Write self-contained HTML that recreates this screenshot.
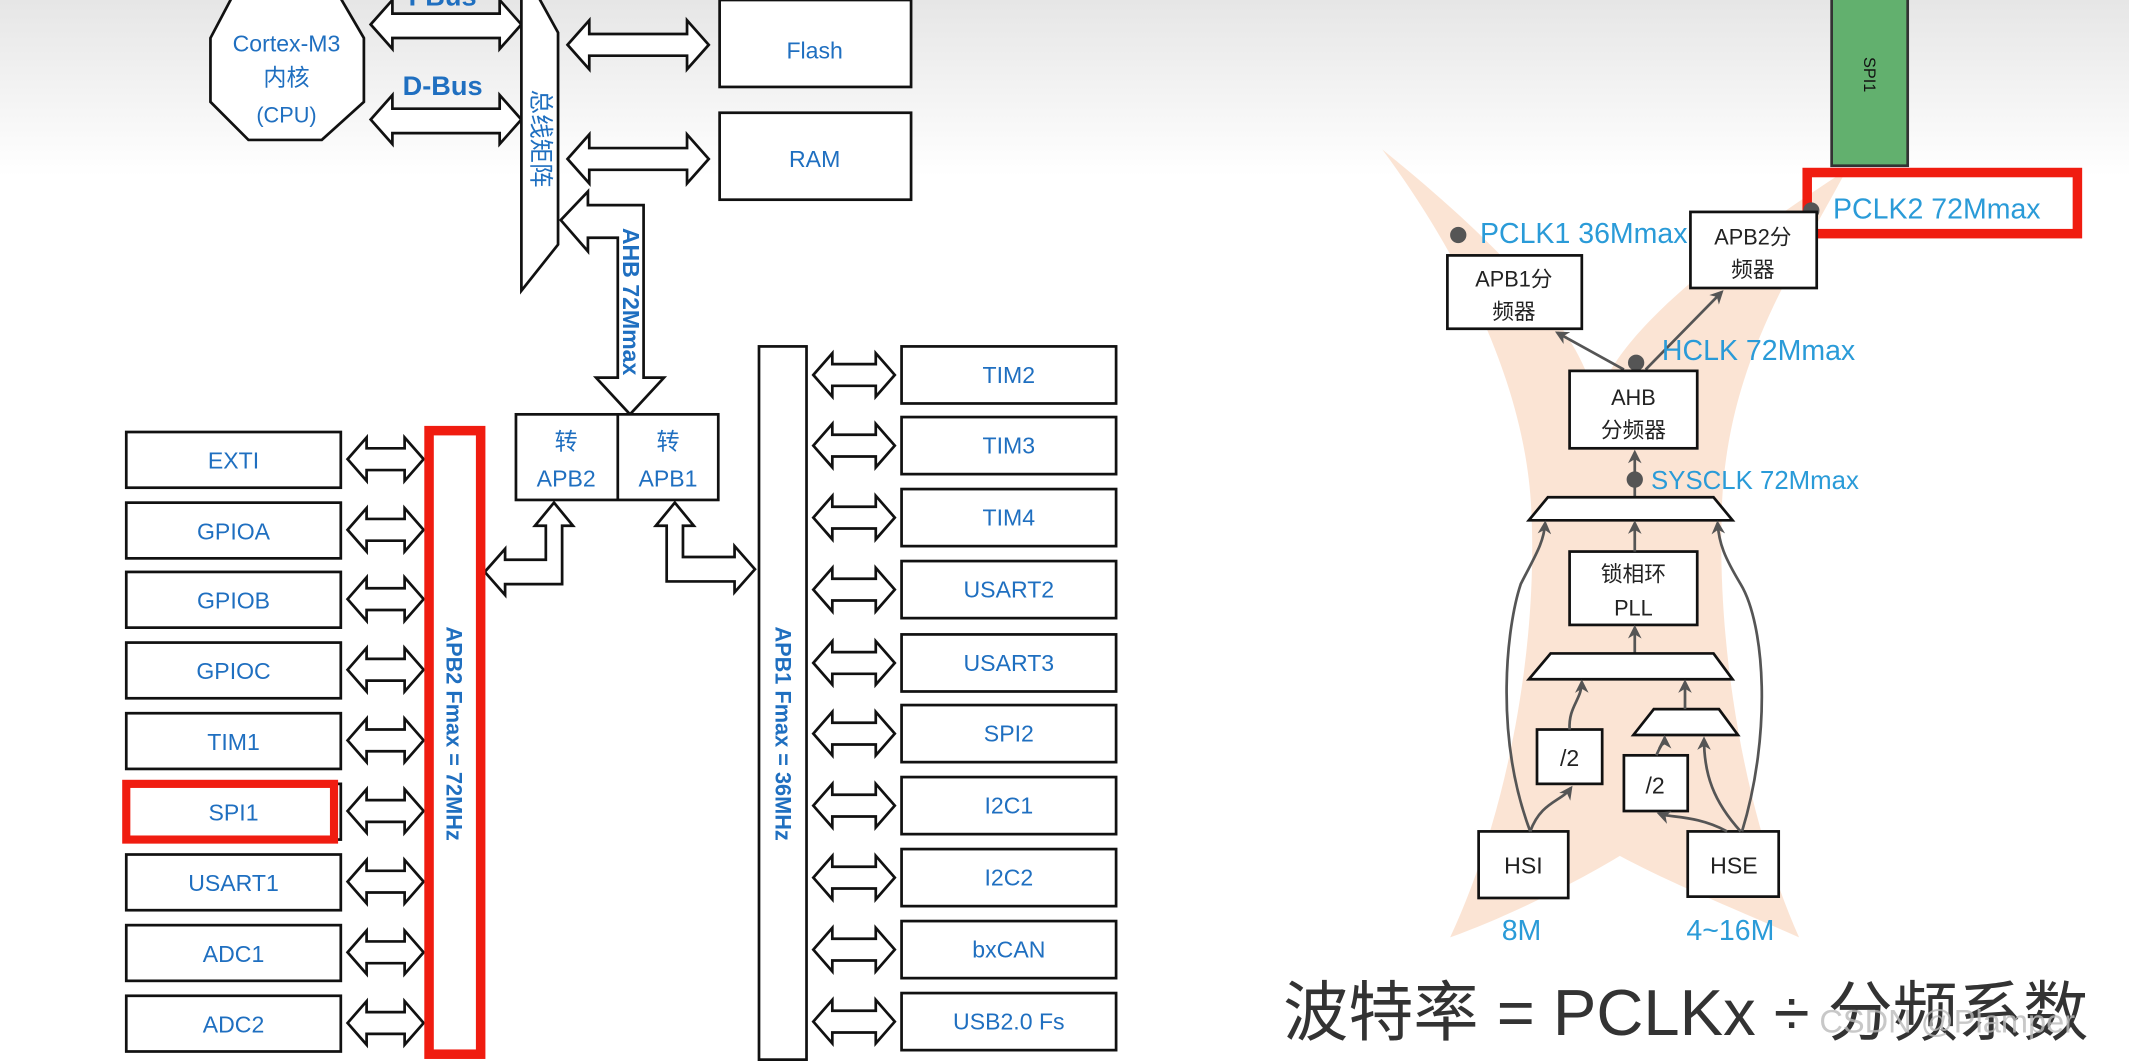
<!DOCTYPE html>
<html><head><meta charset="utf-8"><style>
html,body{margin:0;padding:0;background:#fff;overflow:hidden}
svg{display:block}
.t{font-family:"Liberation Sans","Noto Sans CJK SC",sans-serif;fill:#1f6fc0;text-anchor:middle}
.k{font-family:"Liberation Sans","Noto Sans CJK SC",sans-serif;fill:#222;text-anchor:middle}
.c{font-family:"Liberation Sans","Noto Sans CJK SC",sans-serif;fill:#2a9bd8}
.b{fill:#fff;stroke:#111;stroke-width:2}
.ln{fill:none;stroke:#555;stroke-width:2}
</style></head><body>
<svg width="2129" height="1061" viewBox="0 0 1568 781" preserveAspectRatio="none" xmlns="http://www.w3.org/2000/svg">
<defs>
<linearGradient id="g" x1="0" y1="0" x2="0" y2="1"><stop offset="0" stop-color="#e6e6e6"/><stop offset="1" stop-color="#fff"/></linearGradient>
<marker id="ah" markerWidth="10" markerHeight="10" refX="8" refY="5" orient="auto" markerUnits="userSpaceOnUse"><path d="M0,0 L10,5 L0,10 L3,5 z" fill="#555"/></marker>
</defs>
<rect width="1568" height="781" fill="#fff"/>
<rect width="1568" height="130" fill="url(#g)"/>

<polygon points="183,-25 237,-25 268,28 268,75 237,103 183,103 155,75 155,28" class="b"/>
<text class="t" x="211" y="38" font-size="17">Cortex-M3</text>
<text class="t" x="211" y="63" font-size="17">内核</text>
<text class="t" x="211" y="90" font-size="16">(CPU)</text>

<g fill="#fff" stroke="#111" stroke-width="2">
<polygon points="273,18 289,0 289,10 368,10 368,0 384,18 368,36 368,28 289,28 289,36"/>
<polygon points="273,88 289,70 289,80 368,80 368,70 384,88 368,106 368,98 289,98 289,106"/>
<polygon points="418,33 434,15 434,25 506,25 506,15 522,33 506,51 506,41 434,41 434,51"/>
<polygon points="418,117 434,99 434,109 506,109 506,99 522,117 506,135 506,125 434,125 434,135"/>
<polygon points="384,-5 395,-5 411,24 411,180 384,214"/>
<polygon points="413,162 433,141 433,151 474,151 474,278 489,278 464,305 439,278 455,278 455,175 433,175 433,185"/>
<polygon points="408,370 422,387 414,387 414,430 372,430 372,438 357,421 372,404 372,412 402,412 402,387 394,387"/>
<polygon points="497,370 511,387 503,387 503,410 541,410 541,402 556,419 541,436 541,428 491,428 491,387 483,387"/>
</g>
<text class="t" x="326" y="70" font-size="20" font-weight="bold">D-Bus</text>
<text class="t" x="326" y="4" font-size="20" font-weight="bold">I-Bus</text>
<text class="t" font-size="18" transform="translate(392,102) rotate(90)">总线矩阵</text>
<text class="t" font-size="17" font-weight="bold" transform="translate(459,222) rotate(90)">AHB 72Mmax</text>

<rect x="530" y="0" width="141" height="64" class="b"/>
<text class="t" x="600" y="43" font-size="17">Flash</text>
<rect x="530" y="83" width="141" height="64" class="b"/>
<text class="t" x="600" y="123" font-size="17">RAM</text>

<rect x="380" y="305" width="149" height="63" class="b"/>
<line x1="455" y1="305" x2="455" y2="368" stroke="#111" stroke-width="2"/>
<text class="t" x="417" y="331" font-size="17">转</text>
<text class="t" x="417" y="358" font-size="17">APB2</text>
<text class="t" x="492" y="331" font-size="17">转</text>
<text class="t" x="492" y="358" font-size="17">APB1</text>

<g fill="#fff" stroke="#111" stroke-width="2">
<rect x="93" y="318" width="158" height="41"/>
<rect x="93" y="370" width="158" height="41"/>
<rect x="93" y="421" width="158" height="41"/>
<rect x="93" y="473" width="158" height="41"/>
<rect x="93" y="525" width="158" height="41"/>
<rect x="93" y="577" width="158" height="41"/>
<rect x="93" y="629" width="158" height="41"/>
<rect x="93" y="681" width="158" height="41"/>
<rect x="93" y="733" width="158" height="41"/>
</g>
<g fill="#fff" stroke="#111" stroke-width="2">
<polygon points="256,338 270,322 270,330 298,330 298,322 312,338 298,354 298,346 270,346 270,354"/>
<polygon points="256,390 270,374 270,382 298,382 298,374 312,390 298,406 298,398 270,398 270,406"/>
<polygon points="256,441 270,425 270,433 298,433 298,425 312,441 298,457 298,449 270,449 270,457"/>
<polygon points="256,493 270,477 270,485 298,485 298,477 312,493 298,509 298,501 270,501 270,509"/>
<polygon points="256,545 270,529 270,537 298,537 298,529 312,545 298,561 298,553 270,553 270,561"/>
<polygon points="256,597 270,581 270,589 298,589 298,581 312,597 298,613 298,605 270,605 270,613"/>
<polygon points="256,649 270,633 270,641 298,641 298,633 312,649 298,665 298,657 270,657 270,665"/>
<polygon points="256,701 270,685 270,693 298,693 298,685 312,701 298,717 298,709 270,709 270,717"/>
<polygon points="256,753 270,737 270,745 298,745 298,737 312,753 298,769 298,761 270,761 270,769"/>
</g>
<g class="t" font-size="17">
<text x="172" y="345">EXTI</text>
<text x="172" y="397">GPIOA</text>
<text x="172" y="448">GPIOB</text>
<text x="172" y="500">GPIOC</text>
<text x="172" y="552">TIM1</text>
<text x="172" y="604">SPI1</text>
<text x="172" y="656">USART1</text>
<text x="172" y="708">ADC1</text>
<text x="172" y="760">ADC2</text>
</g>
<rect x="93" y="577" width="153" height="41" fill="none" stroke="#f01c10" stroke-width="6"/>
<rect x="316" y="317" width="38" height="459" fill="#fff" stroke="#f01c10" stroke-width="7"/>
<text class="t" font-size="16" font-weight="bold" transform="translate(329,540) rotate(90)">APB2 Fmax = 72MHz</text>

<rect x="559" y="255" width="35" height="525" class="b"/>
<text class="t" font-size="16" font-weight="bold" transform="translate(571,540) rotate(90)">APB1 Fmax = 36MHz</text>
<g fill="#fff" stroke="#111" stroke-width="2">
<rect x="664" y="255" width="158" height="42"/>
<rect x="664" y="307" width="158" height="42"/>
<rect x="664" y="360" width="158" height="42"/>
<rect x="664" y="413" width="158" height="42"/>
<rect x="664" y="467" width="158" height="42"/>
<rect x="664" y="519" width="158" height="42"/>
<rect x="664" y="572" width="158" height="42"/>
<rect x="664" y="625" width="158" height="42"/>
<rect x="664" y="678" width="158" height="42"/>
<rect x="664" y="731" width="158" height="42"/>
<polygon points="599,276 613,260 613,268 645,268 645,260 659,276 645,292 645,284 613,284 613,292"/>
<polygon points="599,328 613,312 613,320 645,320 645,312 659,328 645,344 645,336 613,336 613,344"/>
<polygon points="599,381 613,365 613,373 645,373 645,365 659,381 645,397 645,389 613,389 613,397"/>
<polygon points="599,434 613,418 613,426 645,426 645,418 659,434 645,450 645,442 613,442 613,450"/>
<polygon points="599,488 613,472 613,480 645,480 645,472 659,488 645,504 645,496 613,496 613,504"/>
<polygon points="599,540 613,524 613,532 645,532 645,524 659,540 645,556 645,548 613,548 613,556"/>
<polygon points="599,593 613,577 613,585 645,585 645,577 659,593 645,609 645,601 613,601 613,609"/>
<polygon points="599,646 613,630 613,638 645,638 645,630 659,646 645,662 645,654 613,654 613,662"/>
<polygon points="599,699 613,683 613,691 645,691 645,683 659,699 645,715 645,707 613,707 613,715"/>
<polygon points="599,752 613,736 613,744 645,744 645,736 659,752 645,768 645,760 613,760 613,768"/>
</g>
<g class="t" font-size="17">
<text x="743" y="282">TIM2</text>
<text x="743" y="334">TIM3</text>
<text x="743" y="387">TIM4</text>
<text x="743" y="440">USART2</text>
<text x="743" y="494">USART3</text>
<text x="743" y="546">SPI2</text>
<text x="743" y="599">I2C1</text>
<text x="743" y="652">I2C2</text>
<text x="743" y="705">bxCAN</text>
<text x="743" y="758">USB2.0 Fs</text>
</g>

<path d="M1018,110 C1080,160 1170,240 1175,300 C1185,250 1260,190 1360,125 C1320,200 1270,270 1268,380 C1265,480 1285,600 1325,690 C1280,670 1230,650 1193,630 C1160,650 1110,675 1068,690 C1110,600 1132,480 1128,380 C1125,280 1070,180 1018,110 Z" fill="#fbe1cf" opacity="0.9"/>

<rect x="1349" y="-2" width="56" height="124" fill="#62b06e" stroke="#333" stroke-width="2"/>
<text font-family="Liberation Sans,sans-serif" font-size="12" fill="#111" transform="translate(1373,55) rotate(90)" text-anchor="middle">SPI1</text>

<rect x="1331" y="127" width="199" height="45" fill="none" stroke="#f01c10" stroke-width="7"/>
<circle cx="1334" cy="155" r="6" fill="#555"/>
<text class="c" x="1350" y="161" font-size="21">PCLK2 72Mmax</text>
<circle cx="1074" cy="173" r="6" fill="#555"/>
<text class="c" x="1090" y="179" font-size="21">PCLK1 36Mmax</text>

<rect x="1066" y="188" width="99" height="54" class="b"/>
<text class="k" x="1115" y="211" font-size="16">APB1分</text>
<text class="k" x="1115" y="235" font-size="16">频器</text>
<rect x="1245" y="156" width="93" height="56" class="b"/>
<text class="k" x="1291" y="180" font-size="16">APB2分</text>
<text class="k" x="1291" y="204" font-size="16">频器</text>

<line x1="1196" y1="272" x2="1147" y2="245" class="ln" marker-end="url(#ah)"/>
<line x1="1212" y1="272" x2="1268" y2="215" class="ln" marker-end="url(#ah)"/>
<circle cx="1205" cy="267" r="6" fill="#555"/>
<text class="c" x="1224" y="265" font-size="21">HCLK 72Mmax</text>

<rect x="1156" y="273" width="94" height="57" class="b"/>
<text class="k" x="1203" y="298" font-size="16">AHB</text>
<text class="k" x="1203" y="322" font-size="16">分频器</text>

<line x1="1204" y1="366" x2="1204" y2="333" class="ln" marker-end="url(#ah)"/>
<circle cx="1204" cy="353" r="6" fill="#555"/>
<text class="c" x="1216" y="360" font-size="19">SYSCLK 72Mmax</text>

<polygon points="1140,366 1262,366 1276,383 1126,383" fill="#fff" stroke="#111" stroke-width="2"/>
<rect x="1156" y="406" width="94" height="54" class="b"/>
<text class="k" x="1203" y="428" font-size="16">锁相环</text>
<text class="k" x="1203" y="453" font-size="16">PLL</text>
<line x1="1204" y1="406" x2="1204" y2="385" class="ln" marker-end="url(#ah)"/>
<line x1="1204" y1="481" x2="1204" y2="462" class="ln" marker-end="url(#ah)"/>
<polygon points="1142,481 1262,481 1276,500 1126,500" fill="#fff" stroke="#111" stroke-width="2"/>
<polygon points="1218,522 1266,522 1280,541 1203,541" fill="#fff" stroke="#111" stroke-width="2"/>
<rect x="1132" y="537" width="48" height="40" class="b"/>
<text class="k" x="1156" y="564" font-size="17">/2</text>
<rect x="1196" y="556" width="47" height="41" class="b"/>
<text class="k" x="1219" y="584" font-size="17">/2</text>
<rect x="1089" y="612" width="66" height="49" class="b"/>
<text class="k" x="1122" y="643" font-size="17">HSI</text>
<rect x="1243" y="612" width="67" height="48" class="b"/>
<text class="k" x="1277" y="643" font-size="17">HSE</text>
<text class="c" x="1106" y="692" font-size="21">8M</text>
<text class="c" x="1242" y="692" font-size="21">4~16M</text>

<path d="M1127,612 C1100,540 1110,460 1120,430 C1130,410 1137,400 1138,385" class="ln" marker-end="url(#ah)"/>
<path d="M1283,612 C1305,540 1300,460 1282,430 C1270,410 1266,400 1265,385" class="ln" marker-end="url(#ah)"/>
<path d="M1127,612 C1135,590 1150,590 1157,580" class="ln" marker-end="url(#ah)"/>
<path d="M1156,537 C1155,520 1165,515 1165,502" class="ln" marker-end="url(#ah)"/>
<path d="M1272,612 C1250,600 1230,602 1222,599" class="ln" marker-end="url(#ah)"/>
<path d="M1282,612 C1262,590 1255,570 1255,544" class="ln" marker-end="url(#ah)"/>
<path d="M1220,556 C1222,550 1226,546 1226,543" class="ln" marker-end="url(#ah)"/>
<line x1="1241" y1="522" x2="1241" y2="502" class="ln" marker-end="url(#ah)"/>

<text x="945" y="762" font-family="Liberation Sans,'Noto Sans CJK SC',sans-serif" font-size="48" fill="#333">波特率 = PCLKx ÷ 分频系数</text>
<text x="1340" y="760" font-family="Liberation Sans,sans-serif" font-size="24" fill="#bbb" opacity="0.8">CSDN @Plamper</text>
</svg>
</body></html>
